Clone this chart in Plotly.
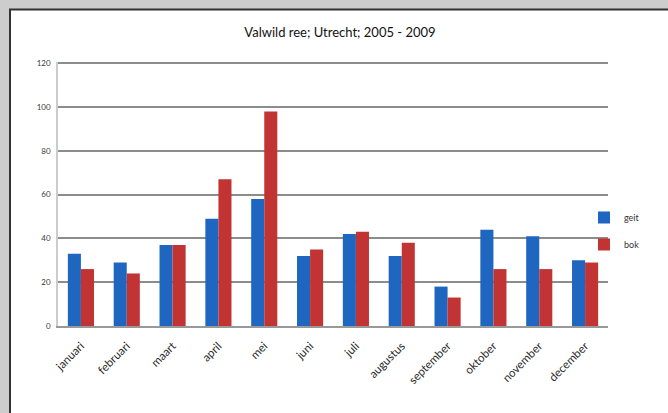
import plotly.graph_objects as go

months = ["januari", "februari", "maart", "april", "mei", "juni", "juli",
          "augustus", "september", "oktober", "november", "december"]
geit = [33, 29, 37, 49, 58, 32, 42, 32, 18, 44, 41, 30]
bok = [26, 24, 37, 67, 98, 35, 43, 38, 13, 26, 26, 29]
series_names = ["geit", "bok"]
y_ticks = [0, 20, 40, 60, 80, 100, 120]

W, H = 668, 413
L, R, T, B = 58, 60, 62, 87
pw, ph = W - L - R, H - T - B

def px_x(px):
    return (px - L) / pw

def px_y(py):
    return (H - B - py) / ph

fig = go.Figure()
fig.add_trace(go.Bar(x=months, y=geit, name=series_names[0],
                     marker=dict(color="#1F66C1", line=dict(width=0)),
                     legendgroup="a"))
fig.add_trace(go.Bar(x=months, y=bok, name=series_names[1],
                     marker=dict(color="#C23434", line=dict(width=0)),
                     legendgroup="b"))

fig.add_shape(type="rect", xref="paper", yref="paper",
              x0=px_x(10), x1=px_x(680), y0=px_y(430), y1=px_y(9.5),
              fillcolor="white", line=dict(color="#333333", width=2),
              layer="below")

fig.update_layout(
    width=W, height=H,
    margin=dict(l=L, r=R, t=T, b=B, pad=0),
    paper_bgcolor="#cdcdcd",
    plot_bgcolor="rgba(0,0,0,0)",
    barmode="group", bargap=0.43, bargroupgap=0,
    font=dict(family="Lato, Open Sans, sans-serif", color="#333333"),
    title=dict(text="Valwild ree; Utrecht; 2005 - 2009",
               x=340 / W, xanchor="center", xref="container",
               y=1 - 32 / H, yanchor="middle", yref="container",
               font=dict(size=13, color="#111111", family="Lato, Open Sans, sans-serif")),
    legend=dict(x=px_x(584), xanchor="left", y=px_y(203), yanchor="top",
                font=dict(size=9, color="#333333"), tracegroupgap=8,
                bgcolor="rgba(0,0,0,0)", itemwidth=30),
    xaxis=dict(tickangle=-45, tickfont=dict(size=11.5, color="#2a2a2a"),
               showline=True, linecolor="#999999", linewidth=1.5,
               ticks="outside", ticklen=7, tickcolor="rgba(0,0,0,0)",
               showgrid=False, automargin=False),
    yaxis=dict(range=[0, 120.6], tickvals=y_ticks, ticktext=[str(v) for v in y_ticks],
               tickfont=dict(size=8, color="#3a3a3a"),
               showgrid=True, gridcolor="#8c8c8c", gridwidth=1.5,
               showline=True, linecolor="#cccccc", linewidth=1.5,
               zeroline=False, ticks="outside", ticklen=4, tickcolor="rgba(0,0,0,0)",
               automargin=False),
)

fig.write_html("out.html",
               config={"displayModeBar": False},
               post_script="document.body.style.margin='0px';"
                           "document.body.style.background='#cdcdcd';"
                           "document.body.style.overflow='hidden';")
